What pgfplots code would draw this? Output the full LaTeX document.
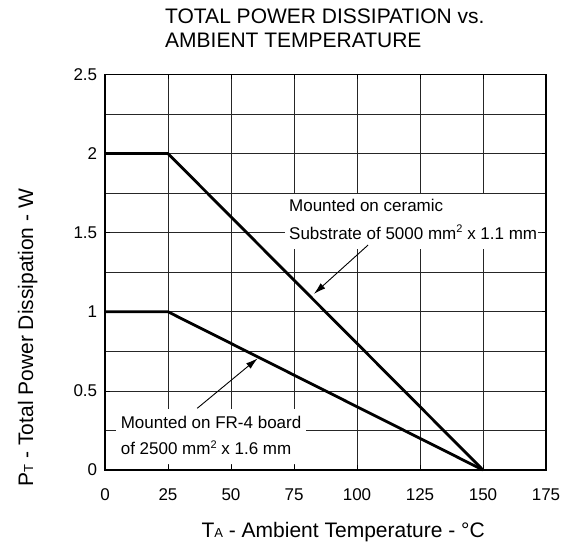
\documentclass[border=0pt]{standalone}
\usepackage{fontspec}
\setmainfont{Liberation Sans}
\usepackage{pgfplots}
\pgfplotsset{compat=1.18}
\usetikzlibrary{arrows.meta}

\newcommand{\ticksize}{\fontsize{17}{20}\selectfont}
\newcommand{\labsize}{\fontsize{21}{24}\selectfont}
\newcommand{\sq}{\raisebox{6.5pt}{\fontsize{11}{11}\selectfont 2}}

\begin{document}
\begin{tikzpicture}
  \begin{axis}[
    scale only axis,
    width=441pt, height=395.5pt,
    xmin=0, xmax=175, ymin=0, ymax=2.5,
    xtick={0,25,...,175},
    ytick={0,0.5,...,2.5},
    minor ytick={0.25,0.75,...,2.25},
    grid=both,
    grid style={black!85, line width=0.7pt},
    minor grid style={black!85, line width=0.7pt},
    axis line style={line width=1.6pt},
    tick align=inside,
    major tick length=4.5pt,
    minor tick length=0pt,
    tick style={black, line width=0.7pt},
    /pgf/number format/assume math mode=true,
    tick label style={font=\ticksize},
    xticklabel style={yshift=-14.8pt},
    yticklabel style={xshift=-4.3pt},
    xlabel={T{\fontsize{13}{13}\selectfont A} - Ambient Temperature - \textdegree C},
    xlabel style={font=\labsize, at={(axis description cs:0.540,-0.170)}, anchor=base, inner sep=0pt},
    ylabel={P{\fontsize{13}{13}\selectfont T} - Total Power Dissipation - W},
    ylabel style={font=\labsize, at={(axis description cs:-0.163,0.335)}, anchor=base, inner sep=0pt},
    clip=false,
  ]
    % white boxes behind the notes
    \fill[white] (axis cs:71.4,1.742) rectangle (axis cs:171.8,1.397);
    \fill[white] (axis cs:4.4,0.386) rectangle (axis cs:79.8,0.038);

    % ceramic substrate
    \addplot[black, line width=2.8pt] coordinates {(0,2) (25,2) (150,0)};
    % FR-4 board
    \addplot[black, line width=2.8pt] coordinates {(0,1) (25,1) (150,0)};

    \node[anchor=base west, inner sep=0pt, font=\ticksize] at (axis cs:73.0,1.632) {Mounted on ceramic};
    \node[anchor=base west, inner sep=0pt, font=\ticksize] at (axis cs:73.0,1.460) {Substrate of 5000 mm\sq{} x 1.1 mm};
    \node[anchor=base west, inner sep=0pt, font=\ticksize] at (axis cs:6.2,0.264) {Mounted on FR-4 board};
    \node[anchor=base west, inner sep=0pt, font=\ticksize] at (axis cs:6.2,0.095) {of 2500 mm\sq{} x 1.6 mm};

    \draw[-{Latex[length=12pt,width=7pt]}, line width=0.9pt] (axis cs:104.4,1.422) -- (axis cs:82.9,1.113);
    \draw[-{Latex[length=12pt,width=7pt]}, line width=0.9pt] (axis cs:36.6,0.390) -- (axis cs:60.6,0.706);

    \node[anchor=base west, inner sep=0pt, font=\labsize] at (axis description cs:0.136,1.1277) {TOTAL POWER DISSIPATION vs.};
    \node[anchor=base west, inner sep=0pt, font=\labsize] at (axis description cs:0.136,1.0688) {AMBIENT TEMPERATURE};
  \end{axis}
  \path (current axis.south west) ++(-105pt,-77pt) coordinate (bbA);
  \path (current axis.north east) ++(26pt,74.5pt) coordinate (bbB);
  \pgfresetboundingbox
  \path (bbA) rectangle (bbB);
\end{tikzpicture}
\end{document}
